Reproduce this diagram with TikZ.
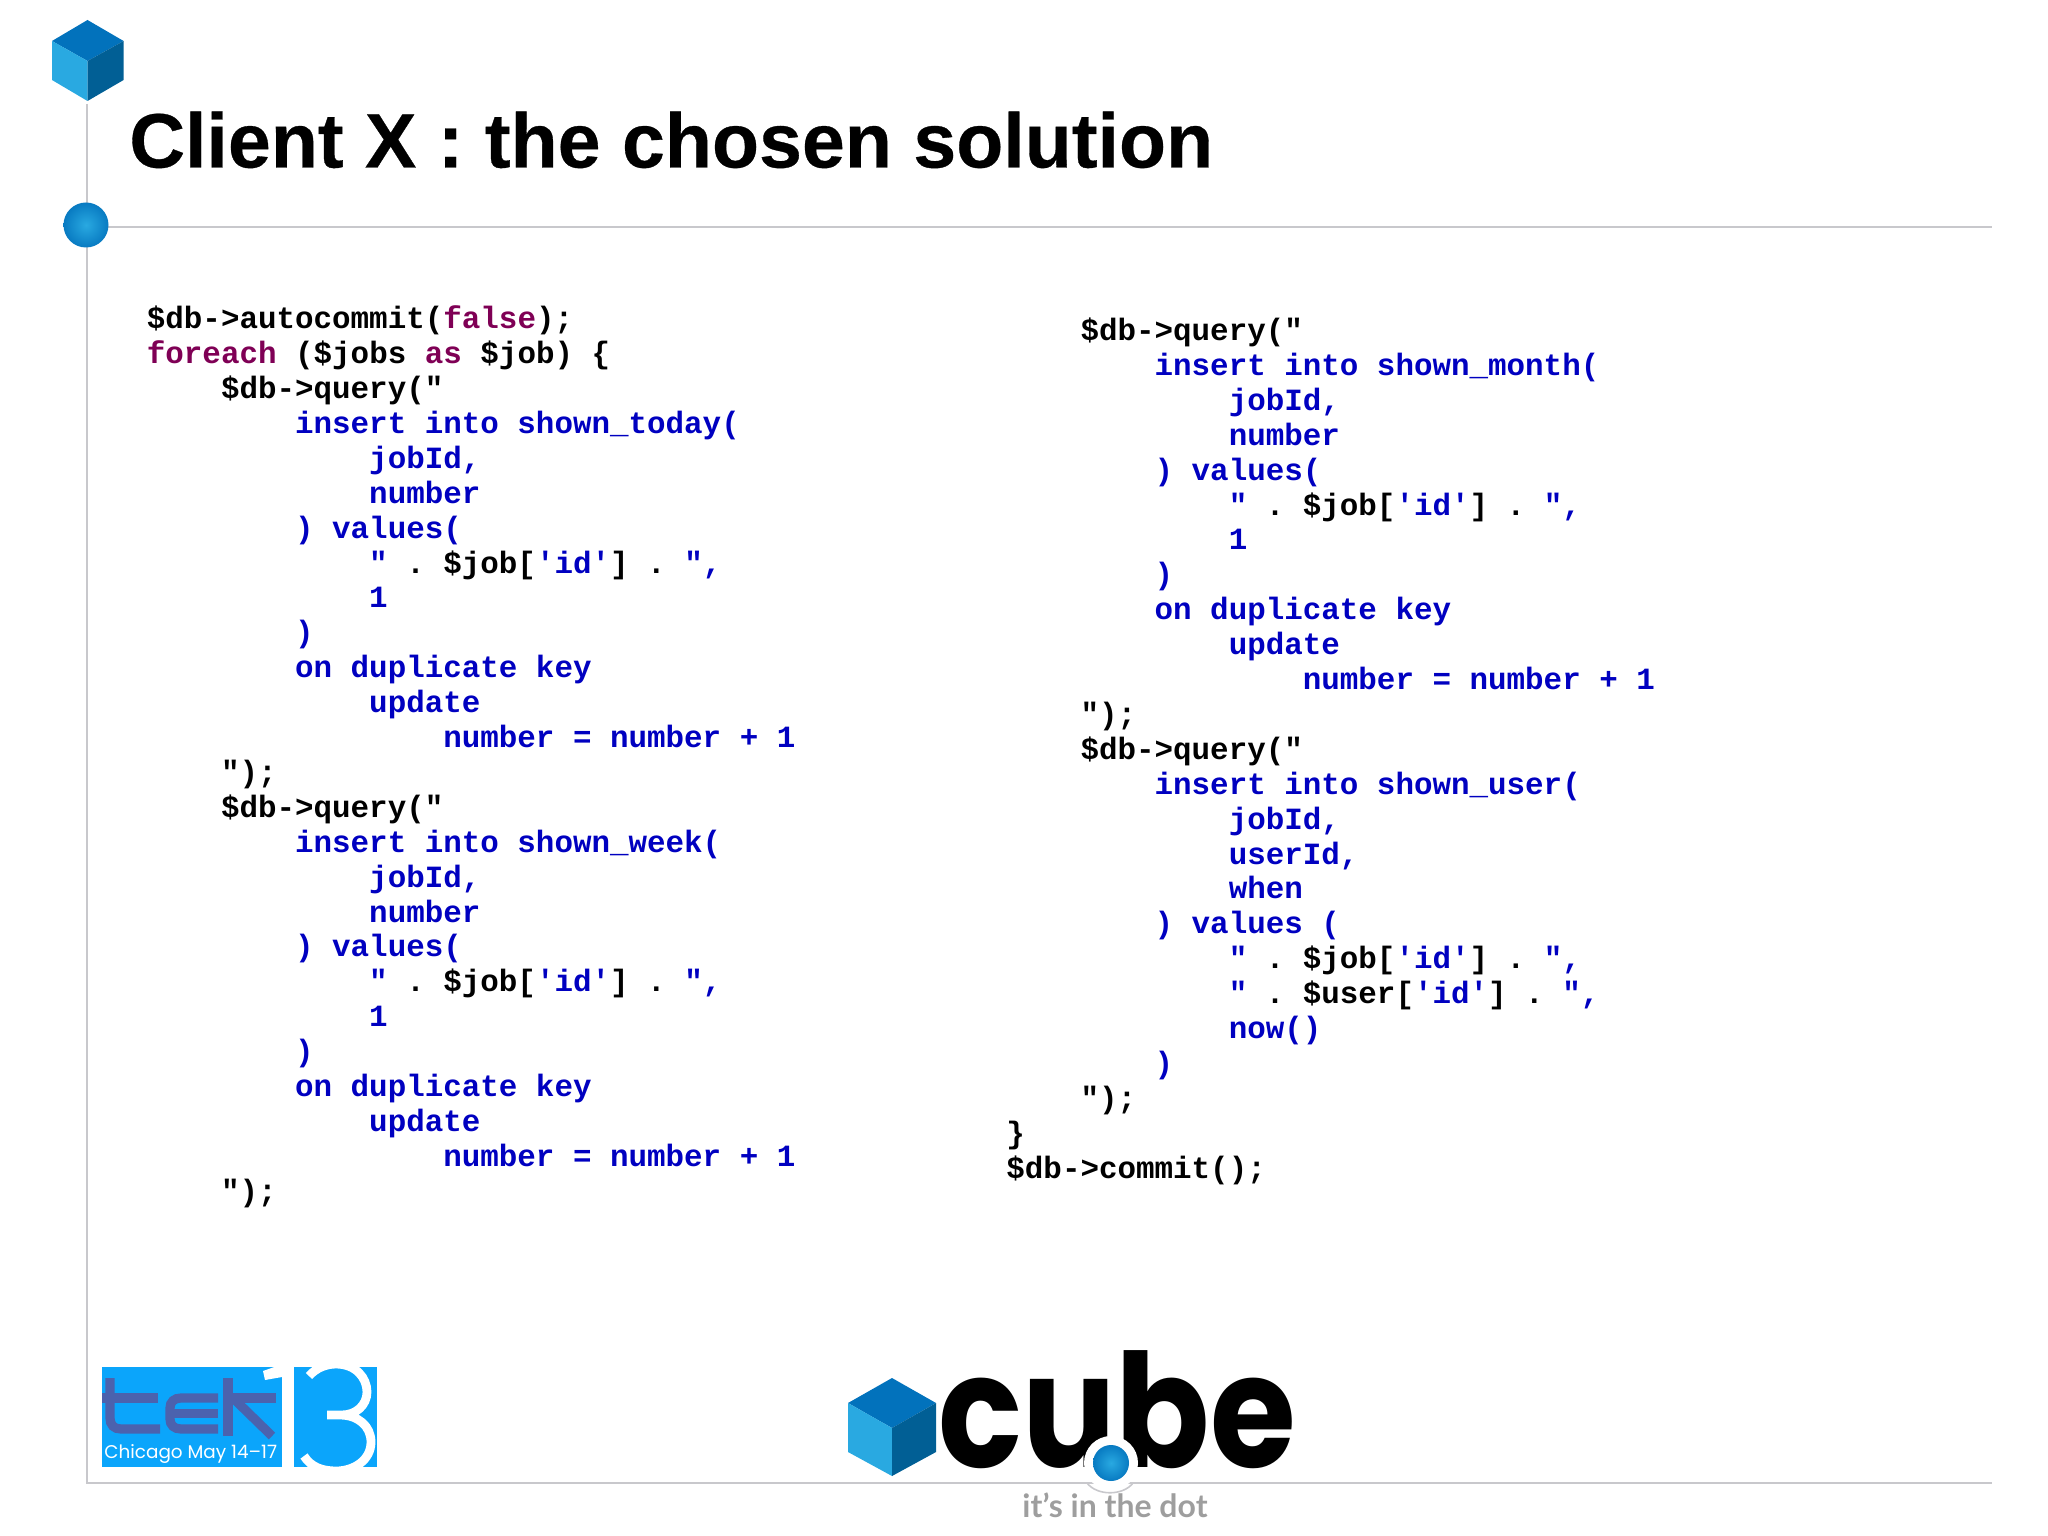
\documentclass[tikz,border=0pt]{standalone}
\usepackage{fontspec}
\setmainfont{Liberation Sans}
\setmonofont{Liberation Mono}
\newfontfamily\logofont{Poppins}
\newfontfamily\tagfont{Lato}
\definecolor{sqlblue}{HTML}{0000C0}
\definecolor{phpkey}{HTML}{7F0055}
\definecolor{rulegrey}{HTML}{C8C8CC}
\definecolor{cubetop}{HTML}{0272BC}
\definecolor{cubeleft}{HTML}{29A9E1}
\definecolor{cuberight}{HTML}{015F95}
\definecolor{tekblue}{HTML}{0BA5FB}
\definecolor{tekdark}{HTML}{4B62AE}
\newcommand{\ind}[1]{\hspace*{#1em}}
\newcommand{\kw}[1]{\textcolor{phpkey}{#1}}
\newcommand{\php}[1]{\textcolor{black}{#1}}
\newcommand{\concat}[1]{" \php{. \$#1[}'id'\php{] .} ",}
\newcommand{\upsert}[1]{%
    \ind{4.8}insert into shown\_#1(\\
    \ind{7.2}jobId,\\
    \ind{7.2}number\\
    \ind{4.8}) values(\\
    \ind{7.2}\concat{job}\\
    \ind{7.2}1\\
    \ind{4.8})\\
    \ind{4.8}on duplicate key\\
    \ind{7.2}update\\
    \ind{9.6}number = number + 1\\}

\begin{document}
\begin{tikzpicture}[
        x=0.5pt,
        y=-0.5pt,
        code/.style={
                anchor=north west,
                inner sep=0pt,
                align=left,
                text=sqlblue,
                font=\fontsize{15.44}{17.45}\selectfont\ttfamily\bfseries
            },
        rule/.style={draw=rulegrey, line width=0.8pt},
        dot/.style={
                circle,
                inner sep=0pt,
                minimum size=#1,
                inner color=cubeleft,
                outer color=cubetop!85!cubeleft
            },
        tekstroke/.style={draw=tekdark, line width=4.6pt},
        threestroke/.style={draw=white, line width=4.4pt}
    ]
    \useasboundingbox (0,0) rectangle (2048,1535);

    % rules
    \coordinate (railtop) at (87,104);
    \coordinate (railend) at (87,1483);
    \coordinate (headstart) at (87,227);
    \coordinate (headend) at (1992,227);
    \coordinate (footend) at (1992,1483);
    \draw[rule] (railtop) -- (railend) -- (footend);
    \draw[rule] (headstart) -- (headend);
    \node[dot=22.5pt] (headdot) at (86,225) {};

    % top cube
    \fill[cubetop] (87.5,20) -- (123.6,41) -- (87.5,61) -- (52,41) -- cycle;
    \fill[cubeleft] (52,41) -- (87.5,61) -- (87.5,101) -- (52,80) -- cycle;
    \fill[cuberight] (123.6,41) -- (87.5,61) -- (87.5,101) -- (123.6,80) -- cycle;

    \node[anchor=base west, inner sep=0pt, font=\fontsize{38.55}{40}\selectfont\bfseries\addfontfeature{FakeBold=0.4}] (title) at (129,167.5) {Client X : the chosen solution};

    \node[code] (leftcode) at (146.5,305.5) {%
        \php{\$db->autocommit(\kw{false});}\\
        \php{\kw{foreach} (\$jobs \kw{as} \$job) \{}\\
        \ind{2.4}\php{\$db->query("}\\
        \upsert{today}
        \ind{2.4}\php{");}\\
        \ind{2.4}\php{\$db->query("}\\
        \upsert{week}
        \ind{2.4}\php{");}};

    \node[code] (rightcode) at (1006,317.5) {%
        \ind{2.4}\php{\$db->query("}\\
        \upsert{month}
        \ind{2.4}\php{");}\\
        \ind{2.4}\php{\$db->query("}\\
        \ind{4.8}insert into shown\_user(\\
        \ind{7.2}jobId,\\
        \ind{7.2}userId,\\
        \ind{7.2}when\\
        \ind{4.8}) values (\\
        \ind{7.2}\concat{job}\\
        \ind{7.2}\concat{user}\\
        \ind{7.2}now()\\
        \ind{4.8})\\
        \ind{2.4}\php{");}\\
        \php{\}}\\
        \php{\$db->commit();}};

    % tek13 logo
    \fill[tekblue] (102,1367) rectangle (282,1467);
    \fill[tekblue] (294,1367) rectangle (377,1467);
    \draw[tekstroke] (110,1378) -- (110,1418) .. controls (110,1425) and (114,1429) .. (121,1429) -- (160,1429);
    \draw[tekstroke] (102,1398) -- (158,1398);
    \draw[tekstroke] (218,1398) -- (181,1398) .. controls (174,1398) and (170,1402) .. (170,1408) -- (170,1419) .. controls (170,1425) and (174,1429) .. (181,1429) -- (218,1429);
    \draw[tekstroke] (170,1413.5) -- (218,1413.5);
    \draw[tekstroke] (228,1378) -- (228,1436);
    \draw[tekstroke] (228,1398) -- (276,1398);
    \draw[tekstroke] (233,1398) -- (272,1436);
    \fill[white] (263,1371) -- (277,1366) -- (282,1366) -- (282,1377) -- (265,1380) -- cycle;
    \node[anchor=base west, inner sep=0pt, text=white, font=\fontsize{9.2}{10}\selectfont\logofont] (tekdate) at (104,1458) {Chicago May 14–17};
    \begin{scope}
        \clip (294,1367) rectangle (377,1467);
        \draw[threestroke] (309,1376) .. controls (316,1368) and (326,1364) .. (336,1364) .. controls (356,1364) and (367,1378) .. (367,1392) .. controls (367,1405) and (356,1415) .. (342,1415) -- (327,1415) -- (340,1415) .. controls (358,1415) and (371,1426) .. (371,1442) .. controls (371,1460) and (354,1471) .. (336,1471) .. controls (322,1471) and (311,1467) .. (304,1456);
    \end{scope}

    % cube logo
    \fill[cubetop] (892,1378) -- (936,1403) -- (892,1428) -- (848,1403) -- cycle;
    \fill[cubeleft] (848,1403) -- (892,1428) -- (892,1476) -- (848,1452) -- cycle;
    \fill[cuberight] (936,1403) -- (892,1428) -- (892,1476) -- (936,1452) -- cycle;
    \node[anchor=base, inner sep=0pt, font=\fontsize{79}{81}\selectfont\logofont\bfseries, xscale=0.88, transform shape] (cubeword) at (1117,1467) {cube};
    \node[circle, fill=white, minimum size=27pt, inner sep=0pt] (dothalo) at (1111,1463) {};
    \draw[rule] (1087,1483) .. controls (1097,1496) and (1123,1496) .. (1133,1483);
    \node[dot=18pt] (cubedot) at (1111,1463) {};
    \node[anchor=base, inner sep=0pt, text=black!38, font=\fontsize{16}{18}\selectfont\tagfont\bfseries] (tagline) at (1115,1517) {it’s in the dot};
\end{tikzpicture}
\end{document}
